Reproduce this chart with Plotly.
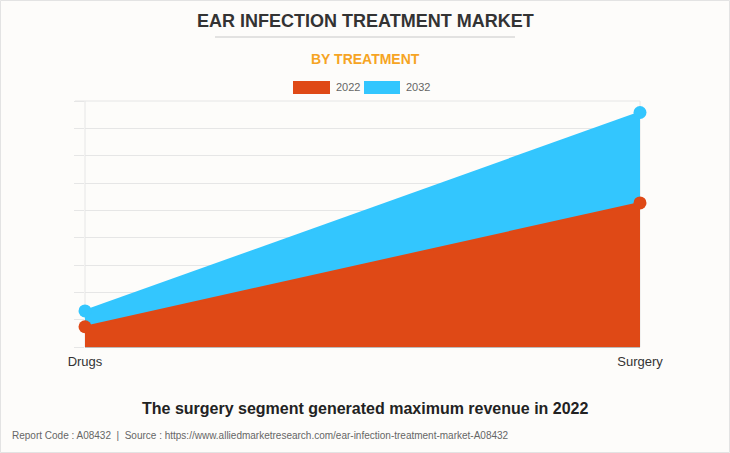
import plotly.graph_objects as go

categories = ["Drugs", "Surgery"]
values_2022 = [0.74, 5.27]
values_2032 = [1.32, 8.58]
series_names = ["2022", "2032"]
colors = ["#DF4916", "#33C6FE"]

fig = go.Figure()
# 2032 drawn first (behind), 2022 on top
fig.add_trace(go.Scatter(
    x=categories, y=values_2032, name=series_names[1], mode="lines+markers",
    fill="tozeroy", fillcolor=colors[1], line=dict(color=colors[1], width=2),
    marker=dict(size=13, color=colors[1]), showlegend=False, cliponaxis=False))
fig.add_trace(go.Scatter(
    x=categories, y=values_2022, name=series_names[0], mode="lines+markers",
    fill="tozeroy", fillcolor=colors[0], line=dict(color=colors[0], width=2),
    marker=dict(size=13, color=colors[0]), showlegend=False, cliponaxis=False))

W, H = 730, 453
L, R, T, B = 85, 90, 101, 106
PW, PH = W - L - R, H - T - B

def px(x):
    return (x - L) / PW

def py(y):
    return 1 - (y - T) / PH

grid = "#E6E6E6"
shapes = [
    # outer border
    dict(type="rect", xref="paper", yref="paper", x0=px(0.5), x1=px(729.5), y0=py(0.5), y1=py(452.5),
         line=dict(color="#E3E3E3", width=1), layer="below"),
    # plot frame lines (below traces)
    dict(type="line", xref="paper", yref="paper", x0=0, x1=0, y0=0, y1=1, line=dict(color=grid, width=1), layer="below"),
    dict(type="line", xref="paper", yref="paper", x0=1, x1=1, y0=0, y1=1, line=dict(color=grid, width=1), layer="below"),
    dict(type="line", xref="paper", yref="paper", x0=px(75), x1=1, y0=1, y1=1, line=dict(color=grid, width=1), layer="below"),
    # title separator
    dict(type="line", xref="paper", yref="paper", x0=px(215), x1=px(515), y0=py(37), y1=py(37),
         line=dict(color="#C8C8C8", width=1)),
    # legend swatches
    dict(type="rect", xref="paper", yref="paper", x0=px(293), x1=px(330), y0=py(81), y1=py(94),
         fillcolor=colors[0], line=dict(width=0)),
    dict(type="rect", xref="paper", yref="paper", x0=px(364), x1=px(400), y0=py(81), y1=py(94),
         fillcolor=colors[1], line=dict(width=0)),
]

annotations = [
    dict(text="<b>EAR INFECTION TREATMENT MARKET</b>", x=px(365), y=py(21), xref="paper", yref="paper",
         showarrow=False, font=dict(family="Arial, Liberation Sans", size=18, color="#333333"),
         xanchor="center", yanchor="middle"),
    dict(text="<b>BY TREATMENT</b>", x=px(365), y=py(59), xref="paper", yref="paper",
         showarrow=False, font=dict(family="Arial, Liberation Sans", size=14, color="#F6A423"),
         xanchor="center", yanchor="middle"),
    dict(text=series_names[0], x=px(334), y=py(87.5), xref="paper", yref="paper",
         showarrow=False, font=dict(family="Arial, Liberation Sans", size=11, color="#666666"),
         xanchor="left", yanchor="middle"),
    dict(text=series_names[1], x=px(404), y=py(87.5), xref="paper", yref="paper",
         showarrow=False, font=dict(family="Arial, Liberation Sans", size=11, color="#666666"),
         xanchor="left", yanchor="middle"),
    dict(text="<b>The surgery segment generated maximum revenue in 2022</b>", x=px(365), y=py(408),
         xref="paper", yref="paper", showarrow=False,
         font=dict(family="Arial, Liberation Sans", size=16, color="#222222"),
         xanchor="center", yanchor="middle"),
    dict(text="Report Code : A08432  |  Source : https://www.alliedmarketresearch.com/ear-infection-treatment-market-A08432",
         x=px(10), y=py(435), xref="paper", yref="paper", showarrow=False,
         font=dict(family="Arial, Liberation Sans", size=10, color="#666666"),
         xanchor="left", yanchor="middle"),
]

fig.update_layout(
    width=W, height=H,
    margin=dict(l=L, r=R, t=T, b=B, pad=0),
    paper_bgcolor="#FDFCFA", plot_bgcolor="#FDFCFA",
    shapes=shapes, annotations=annotations,
    xaxis=dict(type="category", range=[0, 1], showgrid=False,
               showline=False, zeroline=False,
               ticks="outside", ticklen=2, tickcolor="rgba(0,0,0,0)",
               tickfont=dict(family="Arial, Liberation Sans", size=13, color="#333333")),
    yaxis=dict(range=[0, 9], dtick=1, showgrid=True, gridcolor=grid, showticklabels=False,
               ticks="outside", ticklen=10, tickcolor=grid, zeroline=True, zerolinecolor="#BBBBBB",
               zerolinewidth=1, showline=False),
    showlegend=False,
)

fig.write_html("out.html")
